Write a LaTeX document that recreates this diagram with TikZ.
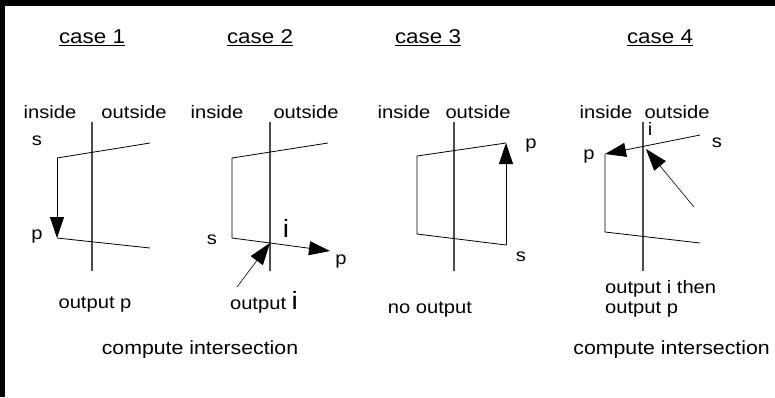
\documentclass[tikz,border=0pt]{standalone}
\usepackage{fontspec}
\setmainfont{Liberation Sans}[FakeStretch=1.12]
\usetikzlibrary{arrows.meta}
\definecolor{divgray}{rgb}{0.3, 0.3, 0.3}

\begin{document}
\begin{tikzpicture}[x=1pt, y=-1pt,
    lbl/.style={font=\fontsize{18pt}{20pt}\selectfont, inner sep=0pt},
    title/.style={font=\fontsize{20pt}{22pt}\selectfont, inner sep=0pt},
    note/.style={font=\fontsize{19pt}{22pt}\selectfont, inner sep=0pt},
    bigi/.style={font=\fontsize{25pt}{27pt}\selectfont, inner sep=0pt},
    edgeline/.style={draw=black, line width=0.8pt},
    divider/.style={draw=divgray, line width=1.1pt},
    bigarrow/.style={-{Triangle[length=21pt, width=14pt]}, line width=0.8pt},
    pointer/.style={-{Triangle[length=22pt, width=15pt]}, line width=0.6pt}
]
    % frame: black band on top and left
    \fill[black] (0,0) rectangle (775,397);
    \fill[white] (5,6) rectangle (775,397);
    \useasboundingbox (0,0) rectangle (775,397);

    % titles, inside/outside labels and dividing lines
    \foreach \n/\t/\xin/\xout/\xd in {1/92/50/134/92, 2/260/217/306/270, 3/428/404/478/454, 4/660/606/677/643} {
        \node(case\n)[title] at (\t, 38) {\underline{case \n}};
        \node(in\n)[lbl] at (\xin, 112) {inside};
        \node(out\n)[lbl] at (\xout, 112) {outside};
        \coordinate (top\n) at (\xd, 122);
        \coordinate (bot\n) at (\xd, 271);
        \draw[divider] (top\n) -- (bot\n);
    }

    % case 1
    \coordinate (s1) at (57,158);
    \coordinate (p1) at (57,238);
    \coordinate (tr1) at (150,143);
    \coordinate (br1) at (150,248);
    \draw[edgeline] (tr1) -- (s1);
    \draw[edgeline, bigarrow] (s1) -- (p1);
    \draw[edgeline] (p1) -- (br1);
    \node(slbl1)[lbl] at (37,141) {s};
    \node(plbl1)[lbl] at (37,237) {p};
    \node(res1)[lbl] at (95,305) {output p};

    % case 2
    \coordinate (tl2) at (232,158);
    \coordinate (tr2) at (328,143);
    \coordinate (s2) at (232,238);
    \coordinate (i2) at (270,243);
    \coordinate (p2) at (330,251);
    \coordinate (ptr2) at (237,287);
    \draw[edgeline] (tr2) -- (tl2) -- (s2) -- (i2);
    \draw[edgeline, bigarrow] (i2) -- (p2);
    \draw[pointer] (ptr2) -- (i2);
    \node(slbl2)[lbl] at (212,240) {s};
    \node(ilbl2)[bigi] at (286,228) {i};
    \node(plbl2)[lbl] at (341,262) {p};
    \node(res2)[lbl] at (264,302) {output {\fontsize{25pt}{27pt}\selectfont i}};
    \node(comp2)[note] at (200,350) {compute intersection};

    % case 3
    \coordinate (tl3) at (417,156);
    \coordinate (bl3) at (417,234);
    \coordinate (s3) at (506,245);
    \coordinate (p3) at (506,143);
    \draw[edgeline] (p3) -- (tl3) -- (bl3) -- (s3);
    \draw[edgeline, bigarrow] (s3) -- (p3);
    \node(plbl3)[lbl] at (531,146) {p};
    \node(slbl3)[lbl] at (521,257) {s};
    \node(res3)[lbl] at (430,310) {no output};

    % case 4
    \coordinate (s4) at (700,135);
    \coordinate (p4) at (605,154);
    \coordinate (bl4) at (605,232);
    \coordinate (br4) at (700,243);
    \coordinate (i4) at (646,149);
    \coordinate (ptr4) at (694,207);
    \draw[edgeline, bigarrow] (s4) -- (p4);
    \draw[edgeline] (p4) -- (bl4) -- (br4);
    \draw[pointer] (ptr4) -- (i4);
    \node(ilbl4)[lbl] at (650,129) {i};
    \node(slbl4)[lbl] at (717,143) {s};
    \node(plbl4)[lbl] at (589,157) {p};
    \node(res4)[lbl, align=left, anchor=north west] at (605,280) {output i then\\output p};
    \node(comp4)[note, anchor=east] at (770,350) {compute intersection};

\end{tikzpicture}
\end{document}
